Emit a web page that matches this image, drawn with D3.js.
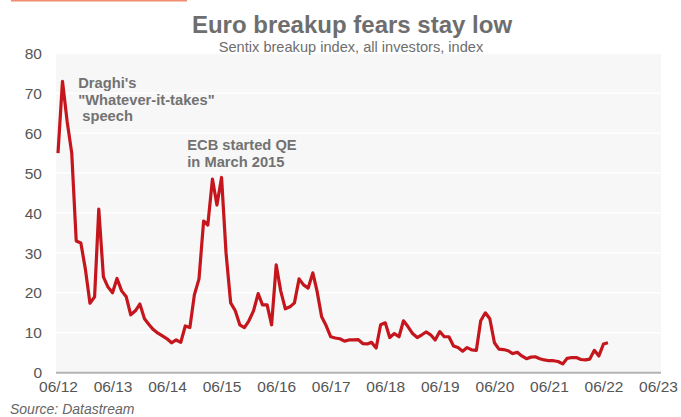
<!DOCTYPE html>
<html>
<head>
<meta charset="utf-8">
<script src="https://cdn.jsdelivr.net/npm/d3@7"></script>
<style>
  body { margin: 0; background: #fff; }
  svg { display: block; font-family: "Liberation Sans", Arial, sans-serif; }
</style>
</head>
<body>
<svg id="chart" width="681" height="417"></svg>
<script>
// Sentix breakup index, monthly, first point June 2012
var firstMonth = "2012-06";
var sentix = [
    55, 73, 63, 55, 33, 32.5, 26, 17.4, 19, 41, 24, 21.5,      // 06/12 - 05/13
    20, 23.6, 20.5, 19, 14.5, 15.5, 17.2, 13.5, 12, 10.8, 9.9, 9.2, // 06/13 - 05/14
    8.5, 7.5, 8.2, 7.6, 11.7, 11.3, 19.5, 23.5, 38, 37, 48.5, 42,   // 06/14 - 05/15
    48.9, 30, 17.5, 15.5, 12, 11.3, 13, 15.5, 19.8, 17, 17, 12,     // 06/15 - 05/16
    27, 20.5, 16, 16.5, 17.5, 23.5, 22, 21.2, 25, 20.5, 14, 11.8,   // 06/16 - 05/17
    9, 8.7, 8.5, 7.9, 8.2, 8.2, 8.3, 7.3, 7.2, 7.6, 6.2, 12,        // 06/17 - 05/18
    12.5, 8.8, 9.8, 9, 13, 11.5, 9.8, 8.8, 9.5, 10.2, 9.5, 8.2,     // 06/18 - 05/19
    10.3, 9, 9, 6.7, 6.3, 5.4, 6.3, 5.7, 5.6, 13, 15, 13.5,         // 06/19 - 05/20
    7.5, 5.9, 5.8, 5.5, 4.8, 5.1, 4.2, 3.5, 3.9, 4, 3.5, 3.2,       // 06/20 - 05/21
    3, 3, 2.8, 2.2, 3.6, 3.8, 3.8, 3.3, 3.2, 3.4, 5.6, 4.2,         // 06/21 - 05/22
    7.2, 7.5                                                        // 06/22 - 07/22
];
var tickYears = [2012, 2013, 2014, 2015, 2016, 2017, 2018, 2019, 2020, 2021, 2022, 2023];
var yTicks = [0, 10, 20, 30, 40, 50, 60, 70, 80];
var notes = [
    { lines: ["Draghi's", "\"Whatever-it-takes\"", " speech"], date: "2012-09", y: 88 },
    { lines: ["ECB started QE", "in March 2015"], date: "2014-09", y: 150 }
];

var svg = d3.select('#chart');
var parseMonth = d3.timeParse('%Y-%m');
var start = parseMonth(firstMonth);

var data = sentix.map(function(v, i) {
    return { date: d3.timeMonth.offset(start, i), val: v };
});

var x = d3.scaleTime()
    .domain([new Date(2012, 5, 1), new Date(2023, 5, 1)])
    .range([58, 658]);
var y = d3.scaleLinear()
    .domain([0, 80])
    .range([372.7, 53.3]);

// orange strip at the very top
svg.append('rect')
    .attr('x', 11).attr('y', 0)
    .attr('width', 176).attr('height', 1.5)
    .style('fill', '#f08c6f');

// plot background
svg.append('rect')
    .attr('x', 56).attr('y', y(80))
    .attr('width', 605).attr('height', y(0) - y(80))
    .style('fill', '#f7f7f7');

// gridlines
svg.append('g').selectAll('line')
    .data(yTicks.slice(1))
    .enter().append('line')
        .attr('x1', 56).attr('x2', 661)
        .attr('y1', function(d) { return y(d); })
        .attr('y2', function(d) { return y(d); })
        .style('stroke', '#ffffff')
        .style('stroke-width', 1.5);

// y labels
svg.append('g').selectAll('text')
    .data(yTicks)
    .enter().append('text')
        .attr('x', 42)
        .attr('y', function(d) { return y(d); })
        .attr('dy', '.36em')
        .attr('text-anchor', 'end')
        .style('font-size', '15.5px')
        .style('fill', '#555')
        .text(function(d) { return d; });

// x axis
var xAxis = d3.axisBottom(x)
    .tickValues(tickYears.map(function(yr) { return new Date(yr, 5, 1); }))
    .tickFormat(d3.timeFormat('%m/%y'))
    .tickSize(0)
    .tickPadding(8);

var gx = svg.append('g')
    .attr('transform', 'translate(0,' + y(0) + ')')
    .call(xAxis);
gx.select('.domain').remove();
gx.selectAll('text')
    .style('font-size', '15.5px')
    .style('font-family', '"Liberation Sans", Arial, sans-serif')
    .style('fill', '#555');

svg.append('line')
    .attr('x1', 56).attr('x2', 661)
    .attr('y1', y(0)).attr('y2', y(0))
    .style('stroke', '#b4b4b4')
    .style('stroke-width', 2);

// the series
var line = d3.line()
    .x(function(d) { return x(d.date); })
    .y(function(d) { return y(d.val); });

svg.append('path')
    .datum(data)
    .attr('d', line)
    .style('fill', 'none')
    .style('stroke', '#c4161c')
    .style('stroke-width', 3.2)
    .style('stroke-linejoin', 'round');

// annotations
notes.forEach(function(n) {
    var ax = x(parseMonth(n.date)) + 6.5;
    var t = svg.append('text')
        .attr('x', ax)
        .attr('y', n.y)
        .style('font-size', '14.7px')
        .style('font-weight', 'bold')
        .style('fill', '#727272')
        .style('white-space', 'pre');
    n.lines.forEach(function(l, i) {
        t.append('tspan')
            .attr('x', ax)
            .attr('dy', i === 0 ? 0 : '1.13em')
            .text(l);
    });
});

// titles
svg.append('text')
    .attr('x', 352).attr('y', 33)
    .attr('text-anchor', 'middle')
    .style('font-size', '24px')
    .style('font-weight', 'bold')
    .style('fill', '#6e6e6e')
    .text('Euro breakup fears stay low');

svg.append('text')
    .attr('x', 351).attr('y', 52)
    .attr('text-anchor', 'middle')
    .style('font-size', '14.6px')
    .style('fill', '#6e6e6e')
    .text('Sentix breakup index, all investors, index');

svg.append('text')
    .attr('x', 10).attr('y', 414)
    .style('font-size', '14px')
    .style('font-style', 'italic')
    .style('fill', '#666')
    .text('Source: Datastream');
</script>
</body>
</html>
